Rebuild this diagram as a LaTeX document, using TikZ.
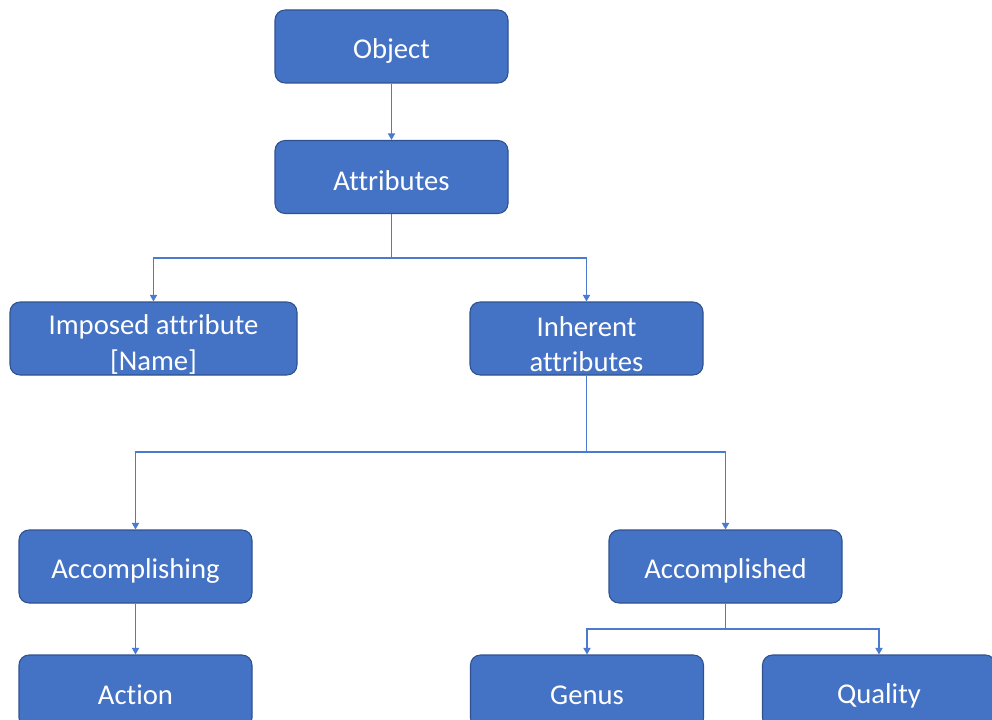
\documentclass[tikz,border=0pt]{standalone}
\usepackage{fontspec}
\setmainfont{Carlito}[Ligatures=NoCommon]
\usetikzlibrary{arrows.meta}
\definecolor{boxfill}{HTML}{4472C4}
\definecolor{boxborder}{HTML}{2F528F}
\definecolor{linecol}{HTML}{4A7BD0}
\newcommand{\bxstrut}{\rule[-1pt]{0pt}{22pt}}
\newcommand{\bxtallstrut}{\rule{0pt}{24pt}}
\begin{document}
\begin{tikzpicture}[x=0.75pt,y=-0.75pt,
  box/.style={rectangle, rounded corners=7.5pt, fill=boxfill, draw=boxborder,
    line width=0.8pt, minimum width=174.75pt, minimum height=54.75pt,
    text=white, font=\fontsize{21.5}{26.5}\selectfont, align=center, inner sep=0pt,
    execute at begin node=\bxstrut, execute at end node=\bxstrut},
  wide/.style={minimum width=215.25pt},
  link/.style={draw=linecol, line width=0.9pt},
  conn/.style={link, -{Triangle[length=5pt,width=5.5pt]}}]
\useasboundingbox (0,0) rectangle (992,720);
\clip (0,0) rectangle (992,720);
\node[box] (obj) at (391.5,46.5) {Object};
\node[box] (attr) at (391.5,177) {Attributes};
\node[box,wide] (imp) at (153.5,338.5) {\bxtallstrut Imposed attribute\\{}[Name]};
\node[box] (inh) at (586.5,338.5) {\bxtallstrut Inherent\\attributes};
\node[box] (acg) at (135.5,566.5) {Accomplishing};
\node[box] (acd) at (725.5,566.5) {Accomplished};
\node[box] (act) at (135.5,691.5) {Action};
\node[box] (gen) at (587,691.5) {Genus};
\node[box] (qual) at (879,691.5) {Quality};
\coordinate (j1) at (391.5,258);
\coordinate (j2) at (586.5,452);
\coordinate (j3) at (725.5,629);
\draw[conn] (obj.south) -- (attr.north);
\draw[link] (attr.south) -- (j1);
\draw[conn] (j1) -| (imp.north);
\draw[conn] (j1) -| (inh.north);
\draw[link] (inh.south) -- (j2);
\draw[conn] (j2) -| (acg.north);
\draw[conn] (j2) -| (acd.north);
\draw[conn] (acg.south) -- (act.north);
\draw[link] (acd.south) -- (j3);
\draw[conn] (j3) -| (gen.north);
\draw[conn] (j3) -| (qual.north);
\end{tikzpicture}
\end{document}
